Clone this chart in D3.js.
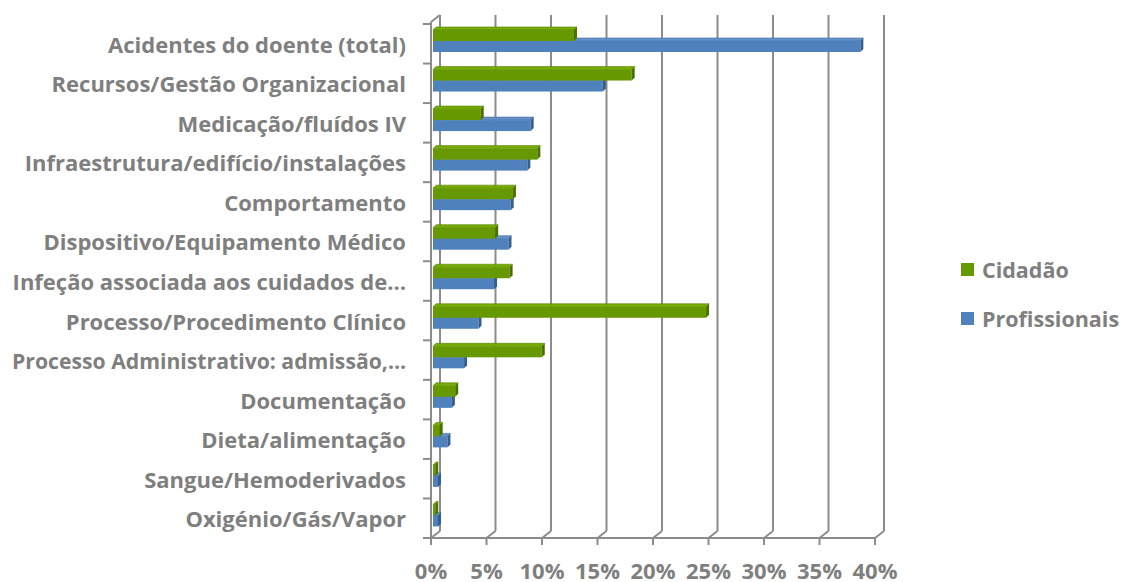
<!DOCTYPE html>
<html>
<head>
<meta charset="utf-8">
<script src="https://cdn.jsdelivr.net/npm/d3@7"></script>
<style>
  body { margin: 0; background: #fff; }
  text { font-family: "Open Sans", "Liberation Sans", sans-serif; font-weight: bold; fill: #7f7f7f; }
</style>
</head>
<body>
<svg id="chart" width="1122" height="582"></svg>
<script>
var categories = [
  "Acidentes do doente (total)",
  "Recursos/Gestão Organizacional",
  "Medicação/fluídos IV",
  "Infraestrutura/edifício/instalações",
  "Comportamento",
  "Dispositivo/Equipamento Médico",
  "Infeção associada aos cuidados de…",
  "Processo/Procedimento Clínico",
  "Processo Administrativo: admissão,…",
  "Documentação",
  "Dieta/alimentação",
  "Sangue/Hemoderivados",
  "Oxigénio/Gás/Vapor"
];
var cidadao =       [12.7, 17.9, 4.3, 9.4, 7.2, 5.6, 6.9, 24.6, 9.8, 2.0, 0.6, 0.2, 0.2];
var profissionais = [38.5, 15.3, 8.8, 8.5, 7.0, 6.8, 5.5, 4.1, 2.8, 1.7, 1.3, 0.45, 0.45];
var xTicks = [0, 5, 10, 15, 20, 25, 30, 35, 40];
var seriesNames = ["Cidadão", "Profissionais"];

var svg = d3.select("#chart");

var plotLeft = 431, plotRight = 875, plotTop = 24, plotBottom = 538;
var wallTop = 15;
var depthX = 9, depthY = -7;   // back wall offset
var barDepth = 3;
var labelRight = 406, labelMaxWidth = 394;

var x = d3.scaleLinear().domain([0, 40]).range([plotLeft, plotRight]);
var xBar = d3.scaleLinear().domain([0, 40]).range([plotLeft + 2, plotRight + 2]);
var y = d3.scaleBand().domain(categories).range([plotTop, plotBottom]);

var gridColor = "#8c8c8c";

// back wall gridlines + floor diagonals
var grid = svg.append("g").attr("stroke", gridColor).attr("stroke-width", 2).attr("fill", "none");
xTicks.forEach(function(t){
  grid.append("line")
    .attr("x1", x(t) + depthX).attr("x2", x(t) + depthX)
    .attr("y1", plotBottom + depthY).attr("y2", wallTop);
  grid.append("line")
    .attr("x1", x(t)).attr("y1", plotBottom)
    .attr("x2", x(t) + depthX).attr("y2", plotBottom + depthY);
});

// left wall
grid.append("line").attr("x1", plotLeft).attr("x2", plotLeft).attr("y1", plotTop - 2).attr("y2", plotBottom);
grid.append("line").attr("x1", plotLeft).attr("y1", plotTop - 2).attr("x2", plotLeft + depthX).attr("y2", wallTop);

// category ticks
var bounds = categories.map(function(c){ return y(c); }).concat([plotBottom]);
bounds.forEach(function(b){
  grid.append("line").attr("x1", plotLeft - 8).attr("x2", plotLeft).attr("y1", b).attr("y2", b);
});

// bottom axis
grid.append("line").attr("x1", plotLeft).attr("x2", plotRight).attr("y1", plotBottom).attr("y2", plotBottom);
xTicks.forEach(function(t){
  grid.append("line").attr("x1", x(t)).attr("x2", x(t)).attr("y1", plotBottom).attr("y2", plotBottom + 7);
});

// bars
var colors = [
  { front: "#669900", top: "#76ad05", side: "#4a7000", edge: "#557f00" },
  { front: "#4f81bd", top: "#6592cb", side: "#355e90", edge: "#41699c" }
];
var barH = 11;

function drawBar(g, value, yTop, c){
  var x0 = xBar(0), x1 = xBar(value);
  var yB = yTop + barH;
  g.append("polygon")
    .attr("points", [[x0, yTop], [x0 + barDepth, yTop - barDepth], [x1 + barDepth, yTop - barDepth], [x1, yTop]].join(" "))
    .attr("fill", c.top).attr("stroke", c.edge).attr("stroke-width", 0.6);
  g.append("rect")
    .attr("x", x0).attr("y", yTop)
    .attr("width", Math.max(0, x1 - x0)).attr("height", barH)
    .attr("fill", c.front);
  g.append("polygon")
    .attr("points", [[x1, yTop], [x1 + barDepth, yTop - barDepth], [x1 + barDepth, yB - barDepth], [x1, yB]].join(" "))
    .attr("fill", c.side);
}

var bars = svg.append("g");
categories.forEach(function(cat, i){
  var b = y(cat);
  drawBar(bars, profissionais[i], b + 17, colors[1]);
  drawBar(bars, cidadao[i], b + 6, colors[0]);
});

// category labels
svg.append("g").selectAll("text")
  .data(categories)
  .join("text")
  .attr("x", labelRight)
  .attr("y", function(d){ return y(d) + y.bandwidth() / 2 + 9; })
  .attr("text-anchor", "end")
  .attr("font-size", "22px")
  .text(function(d){ return d; })
  .each(function(){
    // squeeze the long ones so they stay inside the left edge
    if (this.getComputedTextLength() > labelMaxWidth)
      d3.select(this).attr("textLength", labelMaxWidth).attr("lengthAdjust", "spacingAndGlyphs");
  });

// x tick labels
svg.append("g").selectAll("text")
  .data(xTicks)
  .join("text")
  .attr("x", function(d){ return x(d); })
  .attr("y", 579)
  .attr("text-anchor", "middle")
  .attr("font-size", "22px")
  .text(function(d){ return d + "%"; });

// legend
var legend = svg.append("g");
seriesNames.forEach(function(name, i){
  legend.append("rect")
    .attr("x", 961).attr("y", 263 + i * 49)
    .attr("width", 13).attr("height", 13)
    .attr("fill", colors[i].front);
  legend.append("text")
    .attr("x", 982).attr("y", 278 + i * 49)
    .attr("font-size", "21.5px")
    .text(name);
});
</script>
</body>
</html>
